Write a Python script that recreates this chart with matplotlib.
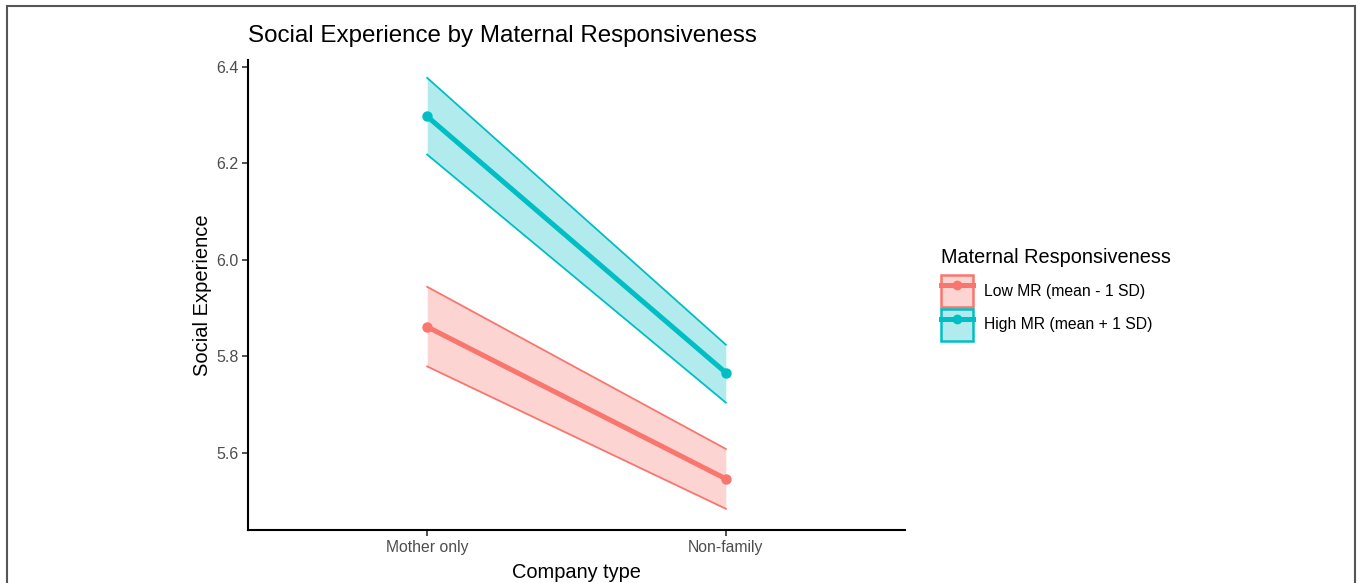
import matplotlib
matplotlib.use('Agg')
from matplotlib import pyplot as plt
from matplotlib.patches import Patch, Rectangle
from matplotlib.lines import Line2D

# data
categories = ['Mother only', 'Non-family']
low_mean = [5.861, 5.546]
low_upper = [5.944, 5.608]
low_lower = [5.779, 5.484]
high_mean = [6.297, 5.766]
high_upper = [6.377, 5.824]
high_lower = [6.218, 5.704]
series_names = ['Low MR (mean - 1 SD)', 'High MR (mean + 1 SD)']
y_ticks = [5.6, 5.8, 6.0, 6.2, 6.4]

plt.rcParams['font.family'] = ['Liberation Sans', 'DejaVu Sans']

red = '#F8766D'
teal = '#00BFC4'

fig = plt.figure(figsize=(13.57, 5.83), dpi=100)
ax = fig.add_axes([248/1357, 1 - 530/583, (905 - 248)/1357, (530 - 60)/583])

x = [1, 2]
for mean, up, lo, col in [(low_mean, low_upper, low_lower, red),
                          (high_mean, high_upper, high_lower, teal)]:
    ax.fill_between(x, lo, up, color=col, alpha=0.3, lw=0)
    ax.plot(x, up, color=col, lw=1.3)
    ax.plot(x, lo, color=col, lw=1.3)
    ax.plot(x, mean, color=col, lw=3.6, marker='o', markersize=6.5)

ax.set_xlim(0.4, 2.6)
ax.set_ylim(5.44, 6.414)
ax.set_xticks(x)
ax.set_xticklabels(categories, fontsize=11.3, color='#4D4D4D')
ax.set_yticks(y_ticks)
ax.set_yticklabels([f'{v:.1f}' for v in y_ticks], fontsize=11.5, color='#4D4D4D')
for s in ['top', 'right']:
    ax.spines[s].set_visible(False)
for s in ['left', 'bottom']:
    ax.spines[s].set_linewidth(1.5)
ax.tick_params(length=4, width=1.2, color='#333333', pad=3)

ax.set_xlabel('Company type', fontsize=14.4, labelpad=6)
ax.set_ylabel('Social Experience', fontsize=14.5, labelpad=2.5)
ax.set_title('Social Experience by Maternal Responsiveness', fontsize=17.4, loc='left', pad=13)

handles = []
for col in [red, teal]:
    handles.append((Patch(facecolor=col, alpha=0.3, edgecolor='none'),
                    Patch(facecolor='none', edgecolor=col, lw=1.8),
                    Line2D([], [], color=col, lw=3.6, marker='o', markersize=6)))
leg = fig.legend(handles, series_names, title='Maternal Responsiveness',
                 loc='upper left', bbox_to_anchor=(927/1357, 1 - 234/583),
                 frameon=False, fontsize=11.3, title_fontsize=14.3,
                 handlelength=2.0, handleheight=2.75, handletextpad=0.75,
                 labelspacing=0.12, borderaxespad=0, borderpad=0.9)
leg._legend_box.align = 'left'
leg._legend_box.sep = 5.7  # a bit more room under the legend title

fig.add_artist(Rectangle((7/1357, -0.05), (1355 - 7)/1357, 1.05 - 6/583,
                         transform=fig.transFigure, fill=False,
                         edgecolor='#555555', lw=1.5))

plt.savefig('out.png', dpi=100)
